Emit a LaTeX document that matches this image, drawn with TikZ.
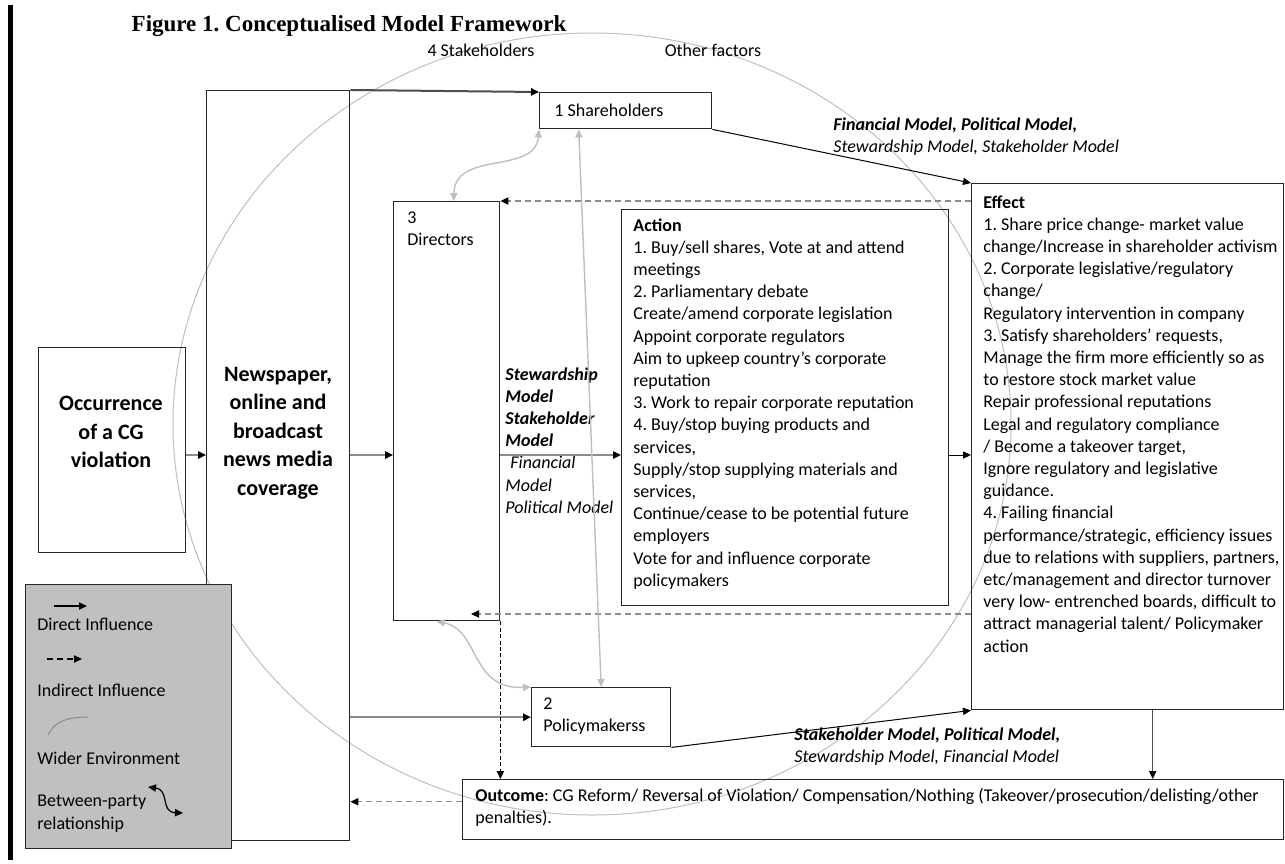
\documentclass[tikz,border=0pt]{standalone}
\usepackage{fontspec}
\setmainfont{Carlito}
\newfontfamily\titlefont{Liberation Serif}
\usetikzlibrary{arrows.meta,calc}
\frenchspacing
\definecolor{cgLine}{HTML}{8C8C8C}
\definecolor{cgLight}{HTML}{BFBFBF}
\definecolor{cgLegend}{HTML}{C0C0C0}
\definecolor{cgInk}{HTML}{262626}
\newcommand{\bodyfont}{\fontsize{9}{11.1}\selectfont}
\newcommand{\bigfont}{\bfseries\fontsize{11}{14.25}\selectfont}

\begin{document}
\begin{tikzpicture}[x=0.5pt, y=-0.5pt,
    every node/.style={font=\bodyfont, inner sep=0pt},
    box/.style={draw=cgInk, line width=0.7pt, anchor=north west},
    txt/.style={align=left, anchor=north west},
    headed/.style={-{Triangle[length=4pt,width=3.6pt,color=black]}},
    direct/.style={headed, draw=black, line width=0.5pt},
    feed/.style={headed, draw=cgLine, line width=1pt},
    indirect/.style={headed, draw=cgLine, line width=0.6pt, dash pattern=on 3pt off 2pt},
    chain/.style={headed, draw=black, line width=0.6pt, dash pattern=on 2pt off 1.2pt},
    mutual/.style={{Triangle[length=4pt,width=3.6pt]}-{Triangle[length=4pt,width=3.6pt]}, draw=cgLight, line width=0.7pt}]
  \useasboundingbox (0,0) rectangle (1285,863);

  % wider environment
  \draw[cgLight, line width=0.5pt] (592,424) ellipse [x radius=209.5pt, y radius=195.5pt];
  \fill[black] (8,5) rectangle (13,860);

  \node[font=\titlefont\bfseries\fontsize{11.5}{13}\selectfont] (title) at (349,26) {Figure 1. Conceptualised Model Framework};
  \node (stake) at (481,50) {4 Stakeholders};
  \node (other) at (713,50) {Other factors};

  % boxes
  \node[box, minimum width=73.5pt, minimum height=102.5pt] (occ) at (38,347) {};
  \node[font=\bigfont, align=center] (occ-t) at (111,432) {Occurrence\\of a CG\\violation};
  \node[box, minimum width=71.5pt, minimum height=375pt] (news) at (206,90) {};
  \node[font=\bigfont, align=center] (news-t) at (278,433) {Newspaper,\\online and\\broadcast\\news media\\coverage};
  \node[box, minimum width=53pt, minimum height=209.5pt] (dir) at (393,201) {};
  \node[txt] (dir-t) at (407,211) {3\\Directors};
  \node[box, minimum width=163.5pt, minimum height=198pt] (act) at (621,209) {};
  \node[txt] (act-t) at (633,218) {\textbf{Action}\\
    1. Buy/sell shares, Vote at and attend\\
    meetings\\
    2. Parliamentary debate\\
    Create/amend corporate legislation\\
    Appoint corporate regulators\\
    Aim to upkeep country’s corporate\\
    reputation\\
    3. Work to repair corporate reputation\\
    4. Buy/stop buying products and\\
    services,\\
    Supply/stop supplying materials and\\
    services,\\
    Continue/cease to be potential future\\
    employers\\
    Vote for and influence corporate\\
    policymakers};
  \node[box, minimum width=156pt, minimum height=263pt] (eff) at (971,183) {};
  \node[txt] (eff-t) at (983,195) {\textbf{Effect}\\
    1. Share price change- market value\\
    change/Increase in shareholder activism\\
    2. Corporate legislative/regulatory\\
    change/\\
    Regulatory intervention in company\\
    3. Satisfy shareholders’ requests,\\
    Manage the firm more efficiently so as\\
    to restore stock market value\\
    Repair professional reputations\\
    Legal and regulatory compliance\\
    / Become a takeover target,\\
    Ignore regulatory and legislative\\
    guidance.\\
    4. Failing financial\\
    performance/strategic, efficiency issues\\
    due to relations with suppliers, partners,\\
    etc/management and director turnover\\
    very low- entrenched boards, difficult to\\
    attract managerial talent/ Policymaker\\
    action};
  \node[box, minimum width=86pt, minimum height=18pt] (sh) at (539,92) {};
  \node[anchor=west] (sh-t) at (554,110) {1 Shareholders};
  \node[box, minimum width=69.5pt, minimum height=29.5pt] (pol) at (531,687) {};
  \node[txt] (pol-t) at (543,697) {2\\Policymakerss};
  \node[box, minimum width=410.5pt, minimum height=30pt] (out) at (462,779) {};
  \node[txt] (out-t) at (475,788) {\textbf{Outcome}: CG Reform/ Reversal of Violation/ Compensation/Nothing (Takeover/prosecution/delisting/other\\penalties).};

  % model labels
  \node[txt] (mod-sh) at (833,117) {\textbf{\textit{Financial Model, Political Model,}}\\\textit{Stewardship Model, Stakeholder Model}};
  \node[txt] (mod-dir) at (505,367) {\textbf{\textit{Stewardship}}\\\textbf{\textit{Model}}\\\textbf{\textit{Stakeholder}}\\\textbf{\textit{Model}}\\\hspace{2.5pt}\textit{Financial}\\\textit{Model}\\\textit{Political Model}};
  \node[txt] (mod-pol) at (794,727) {\textbf{\textit{Stakeholder Model, Political Model,}}\\\textit{Stewardship Model, Financial Model}};

  % influences
  \coordinate (row) at (0,455);
  \draw[feed] (occ.east |- row) -- (news.west |- row);
  \draw[feed] (news.east |- row) -- (dir.west |- row);
  \draw[feed] (dir.east |- row) -- (act.west |- row);
  \draw[direct] (act.east |- row) -- (eff.west |- row);
  \draw[feed, draw=black!70] (news.north east) -- (sh.north west);
  \draw[feed] (news.east |- pol.west) -- (pol.west);
  \draw[direct] (sh.south east) -- (eff.north west);
  \draw[direct] (pol.south east) -- (eff.south west);
  \draw[direct, draw=black!70, line width=0.7pt] ([xshift=12.5pt]eff.south) -- ([xshift=12.5pt]eff.south |- out.north);
  \draw[indirect] (eff.west |- dir.north east) -- (dir.north east);
  \coordinate (dirback) at (471,614);
  \draw[indirect] (eff.west |- dirback) -- (dirback);
  \draw[indirect] ([yshift=4pt]out.west) -- ([yshift=4pt]out.west -| news.east);
  \draw[chain] (dir.south east) -- (dir.south east |- out.north);

  % between-party relationships
  \draw[mutual] ([xshift=-23.5pt]sh.south) -- (pol.north);
  \draw[mutual] (sh.south west) .. controls (535,175) and (455,150) .. ([xshift=3.5pt]dir.north);
  \draw[mutual] ([xshift=-5pt]dir.south) .. controls (480,630) and (470,690) .. (pol.north west);

  % legend
  \node[box, fill=cgLegend, minimum width=103pt, minimum height=132pt] (legend) at (25,584) {};
  \coordinate (lgdirect) at (54,606);
  \draw[direct, line width=0.7pt] (lgdirect) -- ++(33,0);
  \node[anchor=west] (lgd) at (37,624) {Direct Influence};
  \coordinate (lgindirect) at (47,659);
  \draw[indirect, draw=black] (lgindirect) -- ++(35,0);
  \node[anchor=west] (lgi) at (37,690) {Indirect Influence};
  \coordinate (lgwide) at (48,735);
  \draw[cgLine, line width=0.5pt] (lgwide) .. controls (55,720) and (70,717) .. (88,717);
  \node[anchor=west] (lgw) at (37,758) {Wider Environment};
  \node[txt] (lgb) at (37,795) {Between-party\\relationship};
  \coordinate (lgpair) at (148,787);
  \draw[{Triangle[length=4pt,width=3.6pt]}-{Triangle[length=4pt,width=3.6pt]}, line width=0.6pt] (lgpair) .. controls (170,790) and (160,812) .. (183,813);
\end{tikzpicture}
\end{document}
